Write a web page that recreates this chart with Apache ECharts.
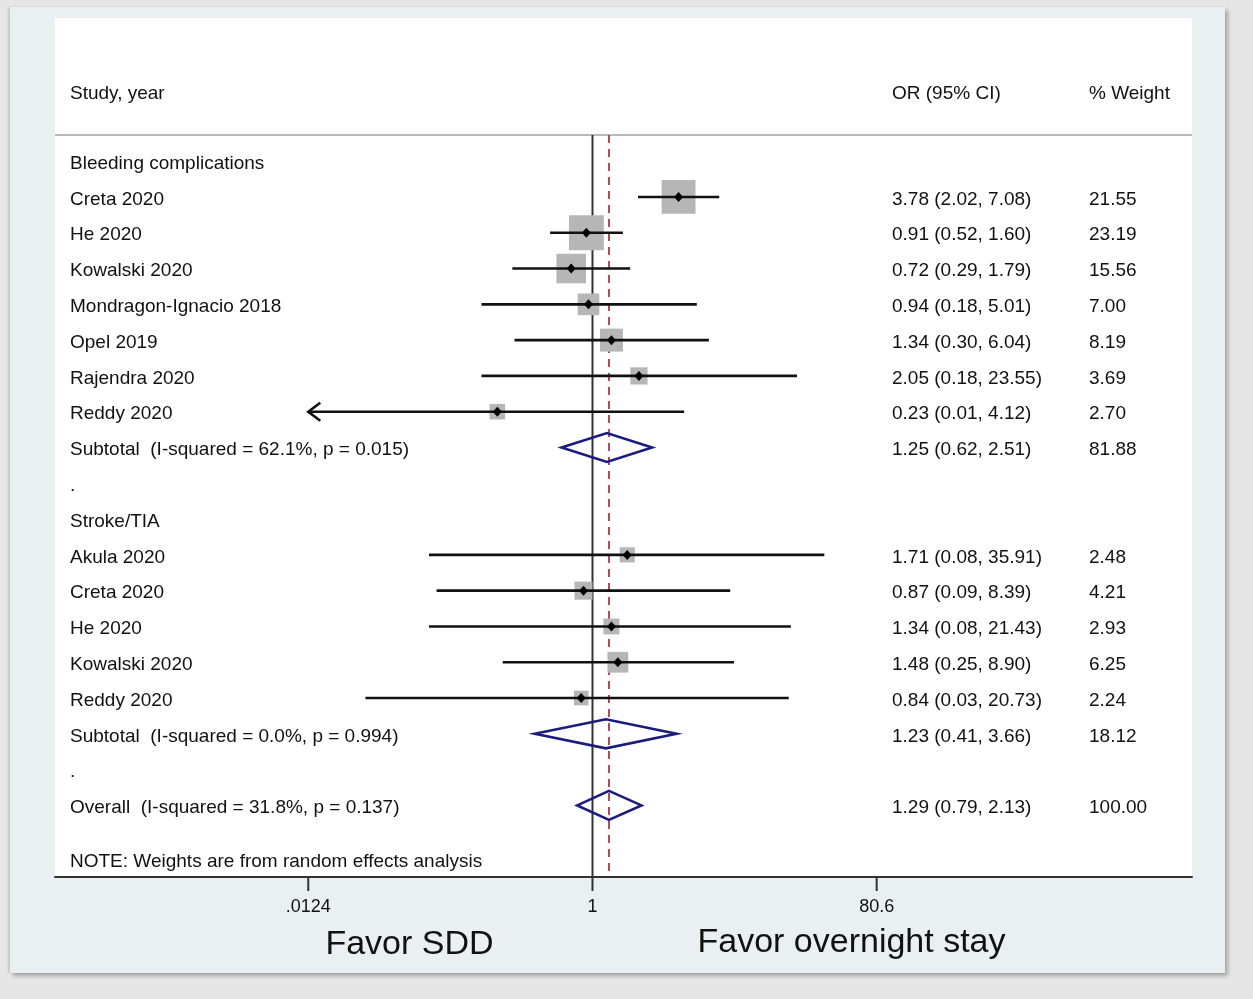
<!DOCTYPE html>
<html>
<head>
<meta charset="utf-8">
<script src="https://cdn.jsdelivr.net/npm/echarts@6/dist/echarts.min.js"></script>
<style>
html,body{margin:0;padding:0;background:#e6e6e6;width:1253px;height:999px;overflow:hidden;}
#panel{position:absolute;left:10px;top:7px;width:1215px;height:966px;background:#e9f0f2;box-shadow:3px 3px 4px rgba(0,0,0,0.28),-2px 0 2px rgba(0,0,0,0.12);}
#c{position:absolute;left:0;top:0;width:1253px;height:999px;}
</style>
</head>
<body>
<div id="panel"></div>
<div id="c"></div>
<script>
// ---------- data ----------
const headerLabels = ['Study, year', 'OR (95% CI)', '% Weight'];
const rowLabels = [
  'Bleeding complications', 'Creta 2020', 'He 2020', 'Kowalski 2020', 'Mondragon-Ignacio 2018',
  'Opel 2019', 'Rajendra 2020', 'Reddy 2020', 'Subtotal  (I-squared = 62.1%, p = 0.015)', '.',
  'Stroke/TIA', 'Akula 2020', 'Creta 2020', 'He 2020', 'Kowalski 2020', 'Reddy 2020',
  'Subtotal  (I-squared = 0.0%, p = 0.994)', '.', 'Overall  (I-squared = 31.8%, p = 0.137)'
];
const noteLabel = 'NOTE: Weights are from random effects analysis';

const studyRows   = [1, 2, 3, 4, 5, 6, 7, 11, 12, 13, 14, 15];
const studyOR     = [3.78, 0.91, 0.72, 0.94, 1.34, 2.05, 0.23, 1.71, 0.87, 1.34, 1.48, 0.84];
const studyLow    = [2.02, 0.52, 0.29, 0.18, 0.30, 0.18, 0.01, 0.08, 0.09, 0.08, 0.25, 0.03];
const studyHigh   = [7.08, 1.60, 1.79, 5.01, 6.04, 23.55, 4.12, 35.91, 8.39, 21.43, 8.90, 20.73];
const studyWeight = [21.55, 23.19, 15.56, 7.00, 8.19, 3.69, 2.70, 2.48, 4.21, 2.93, 6.25, 2.24];

const pooledRows   = [8, 16, 18];
const pooledOR     = [1.25, 1.23, 1.29];
const pooledLow    = [0.62, 0.41, 0.79];
const pooledHigh   = [2.51, 3.66, 2.13];
const pooledWeight = [81.88, 18.12, 100.00];

const xTickValues = [0.0124, 1, 80.6];
const xTickLabels = ['.0124', '1', '80.6'];
const nullValue = 1;
const overallValue = 1.29;
const xAxisLabels = ['Favor SDD', 'Favor overnight stay'];

// ---------- layout / style ----------
const FONT = '"Liberation Sans", Arial, Helvetica, sans-serif';
const TXT = '#111111';
const X_MIN = 2.48e-4, X_MAX = 10510;      // axis extent (log scale)
const Y_MIN = -4, Y_MAX = 20;               // row extent
const HEADER_ROW = -1.96, SEP_ROW = -0.73, NOTE_ROW = 19.5;
const TEXT_DY = 2.5;
const colX = [70, 892, 1089];
const dispMin = xTickValues[0], dispMax = xTickValues[xTickValues.length - 1];

// text items
const textItems = [];
headerLabels.forEach((t, i) => textItems.push({row: HEADER_ROW, col: i, text: t}));
rowLabels.forEach((t, i) => textItems.push({row: i, col: 0, text: t}));
studyRows.forEach((r, i) => {
  textItems.push({row: r, col: 1, text: studyOR[i].toFixed(2) + ' (' + studyLow[i].toFixed(2) + ', ' + studyHigh[i].toFixed(2) + ')'});
  textItems.push({row: r, col: 2, text: studyWeight[i].toFixed(2)});
});
pooledRows.forEach((r, i) => {
  textItems.push({row: r, col: 1, text: pooledOR[i].toFixed(2) + ' (' + pooledLow[i].toFixed(2) + ', ' + pooledHigh[i].toFixed(2) + ')'});
  textItems.push({row: r, col: 2, text: pooledWeight[i].toFixed(2)});
});
textItems.push({row: NOTE_ROW, col: 0, text: noteLabel});

function txtStyle(text, size, align, vAlign) {
  return {text: text, fill: TXT, font: size + 'px ' + FONT,
          align: align, textAlign: align, verticalAlign: vAlign, textVerticalAlign: vAlign};
}

const chart = echarts.init(document.getElementById('c'), null, {renderer: 'canvas'});

const option = {
  backgroundColor: 'transparent',
  animation: false,
  grid: {left: 55, top: 18, width: 1137, height: 859, show: true, backgroundColor: '#ffffff', borderWidth: 0},
  xAxis: {
    type: 'log', logBase: 10, min: X_MIN, max: X_MAX,
    axisLine: {show: true, onZero: false, lineStyle: {color: '#333333', width: 2}},
    axisTick: {show: false}, axisLabel: {show: false}, splitLine: {show: false}
  },
  yAxis: {type: 'value', min: Y_MIN, max: Y_MAX, inverse: true, show: false},
  graphic: xAxisLabels.map((t, i) => ({
    type: 'text', x: i === 0 ? 409.5 : 851.5, y: i === 0 ? 945 : 943,
    style: txtStyle(t, 34, 'center', 'middle')
  })),
  series: [
    // header separator
    {type: 'line', silent: true, symbol: 'none', z: 1,
     data: [[X_MIN, SEP_ROW], [X_MAX, SEP_ROW]],
     lineStyle: {color: '#b9b9b9', width: 2}},
    // null line
    {type: 'line', silent: true, symbol: 'none', z: 1,
     data: [[nullValue, SEP_ROW], [nullValue, Y_MAX]],
     lineStyle: {color: '#333333', width: 2}},
    // overall effect dashed line
    {type: 'line', silent: true, symbol: 'none', z: 1,
     data: [[overallValue, SEP_ROW], [overallValue, Y_MAX]],
     lineStyle: {color: '#b04a55', width: 2, type: [8, 6]}},
    // individual studies
    {type: 'custom', silent: true, z: 3,
     data: studyRows.map((r, i) => [studyOR[i], r, studyLow[i], studyHigh[i], studyWeight[i]]),
     encode: {x: 0, y: 1},
     renderItem: function (params, api) {
       const row = api.value(1);
       const p = api.coord([api.value(0), row]);
       const lo = api.value(2), hi = api.value(3), w = api.value(4);
       const pL = api.coord([Math.max(lo, dispMin), row]);
       const pH = api.coord([Math.min(hi, dispMax), row]);
       const side = 5.5 + 6.1 * Math.sqrt(w);
       const children = [
         {type: 'rect', shape: {x: p[0] - side / 2, y: p[1] - side / 2, width: side, height: side},
          style: {fill: '#b6b6b6'}},
         {type: 'line', shape: {x1: pL[0], y1: pL[1], x2: pH[0], y2: pH[1]},
          style: {stroke: '#111111', lineWidth: 2.6}}
       ];
       if (lo < dispMin) {
         children.push({type: 'polyline', shape: {points: [[pL[0] + 12, pL[1] - 9], [pL[0], pL[1]], [pL[0] + 12, pL[1] + 9]]},
                        style: {stroke: '#111111', lineWidth: 2.6, fill: null}});
       }
       if (hi > dispMax) {
         children.push({type: 'polyline', shape: {points: [[pH[0] - 12, pH[1] - 9], [pH[0], pH[1]], [pH[0] - 12, pH[1] + 9]]},
                        style: {stroke: '#111111', lineWidth: 2.6, fill: null}});
       }
       children.push({type: 'polygon', shape: {points: [[p[0], p[1] - 5], [p[0] + 4.5, p[1]], [p[0], p[1] + 5], [p[0] - 4.5, p[1]]]},
                      style: {fill: '#000000'}});
       return {type: 'group', children: children};
     }},
    // pooled diamonds
    {type: 'custom', silent: true, z: 3,
     data: pooledRows.map((r, i) => [pooledOR[i], r, pooledLow[i], pooledHigh[i]]),
     encode: {x: 0, y: 1},
     renderItem: function (params, api) {
       const row = api.value(1);
       const p = api.coord([api.value(0), row]);
       const pL = api.coord([api.value(2), row]);
       const pH = api.coord([api.value(3), row]);
       const h = 14.5;
       return {type: 'polygon',
               shape: {points: [[pL[0], p[1]], [p[0], p[1] - h], [pH[0], p[1]], [p[0], p[1] + h]]},
               style: {stroke: '#1b1b7d', lineWidth: 2.6, fill: null, lineJoin: 'miter'}};
     }},
    // axis ticks and labels
    {type: 'custom', silent: true, z: 4,
     data: xTickValues.map(v => [v, Y_MAX]),
     encode: {x: 0, y: 1},
     renderItem: function (params, api) {
       const p = api.coord([api.value(0), api.value(1)]);
       return {type: 'group', children: [
         {type: 'line', shape: {x1: p[0], y1: p[1], x2: p[0], y2: p[1] + 14},
          style: {stroke: '#333333', lineWidth: 2}},
         {type: 'text', x: p[0], y: p[1] + 30,
          style: txtStyle(xTickLabels[params.dataIndex], 18, 'center', 'middle')}
       ]};
     }},
    // text columns
    {type: 'custom', silent: true, z: 4,
     data: textItems.map(t => [nullValue, t.row]),
     encode: {x: 0, y: 1},
     renderItem: function (params, api) {
       const t = textItems[params.dataIndex];
       const y = api.coord([nullValue, api.value(1)])[1] + TEXT_DY;
       return {type: 'text', x: colX[t.col], y: y, style: txtStyle(t.text, 19, 'left', 'middle')};
     }}
  ]
};
chart.setOption(option);
</script>
</body>
</html>
